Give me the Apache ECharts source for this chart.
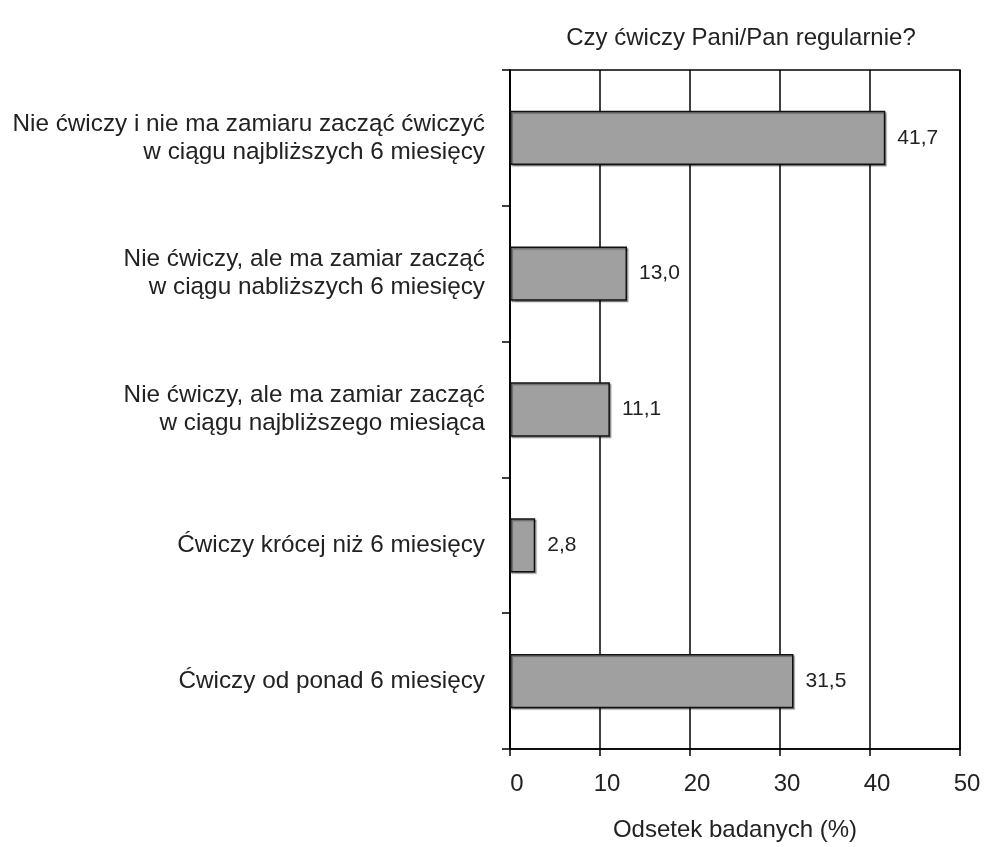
<!DOCTYPE html>
<html>
<head>
<meta charset="utf-8">
<script src="https://cdn.jsdelivr.net/npm/echarts@6/dist/echarts.min.js"></script>
<style>
  html, body { margin: 0; padding: 0; background: #fff; }
  #chart { width: 984px; height: 847px; }
</style>
</head>
<body>
<div id="chart"></div>
<script>
// Survey answers, top to bottom
const categories = [
  'Nie ćwiczy i nie ma zamiaru zacząć ćwiczyć\nw ciągu najbliższych 6 miesięcy',
  'Nie ćwiczy, ale ma zamiar zacząć\nw ciągu nabliższych 6 miesięcy',
  'Nie ćwiczy, ale ma zamiar zacząć\nw ciągu najbliższego miesiąca',
  'Ćwiczy krócej niż 6 miesięcy',
  'Ćwiczy od ponad 6 miesięcy'
];
// Share of respondents (%)
const values = [41.7, 13.0, 11.1, 2.8, 31.5];
const titleText = 'Czy ćwiczy Pani/Pan regularnie?';
const xAxisName = 'Odsetek badanych (%)';

const FONT = 'Liberation Sans, Arial, sans-serif';
const chart = echarts.init(document.getElementById('chart'));

chart.setOption({
  animation: false,
  backgroundColor: '#ffffff',
  title: {
    text: titleText,
    left: 736,
    textAlign: 'center',
    top: 21,
    textStyle: { fontFamily: FONT, fontSize: 24, fontWeight: 'normal', color: '#222' }
  },
  grid: {
    left: 510, right: 24, top: 70, bottom: 94,
    show: true, borderColor: '#000', borderWidth: 1.5, backgroundColor: 'transparent'
  },
  xAxis: {
    type: 'value',
    min: 0, max: 50, interval: 10,
    name: xAxisName,
    nameLocation: 'middle',
    nameGap: 69,
    nameTextStyle: { fontFamily: FONT, fontSize: 24, color: '#222' },
    axisLine: { show: true, lineStyle: { color: '#000', width: 1.5 } },
    axisTick: { show: true, length: 7, lineStyle: { color: '#000', width: 1.5 } },
    axisLabel: {
      fontFamily: FONT, fontSize: 24, color: '#222', margin: 23,
      padding: [0, 0, 0, 14]
    },
    splitLine: { show: true, lineStyle: { color: '#000', width: 1.5 } }
  },
  yAxis: {
    type: 'category',
    data: categories,
    inverse: true,
    axisLine: { show: true, lineStyle: { color: '#000', width: 1.5 } },
    axisTick: { show: true, length: 8, alignWithLabel: false, lineStyle: { color: '#000', width: 1.5 } },
    axisLabel: {
      fontFamily: FONT, fontSize: 24.3, color: '#222', margin: 25,
      lineHeight: 28, align: 'right'
    }
  },
  series: [{
    type: 'bar',
    data: values,
    barWidth: '40%',
    itemStyle: {
      color: '#a0a0a0',
      borderColor: '#111',
      borderWidth: 1.5,
      shadowColor: 'rgba(0,0,0,0.35)',
      shadowOffsetX: 1.5,
      shadowOffsetY: 1.5,
      shadowBlur: 1
    },
    label: {
      show: true,
      position: 'right',
      distance: 12,
      fontFamily: FONT,
      fontSize: 21,
      color: '#222',
      formatter: p => p.value.toFixed(1).replace('.', ',')
    }
  }]
});
</script>
</body>
</html>
